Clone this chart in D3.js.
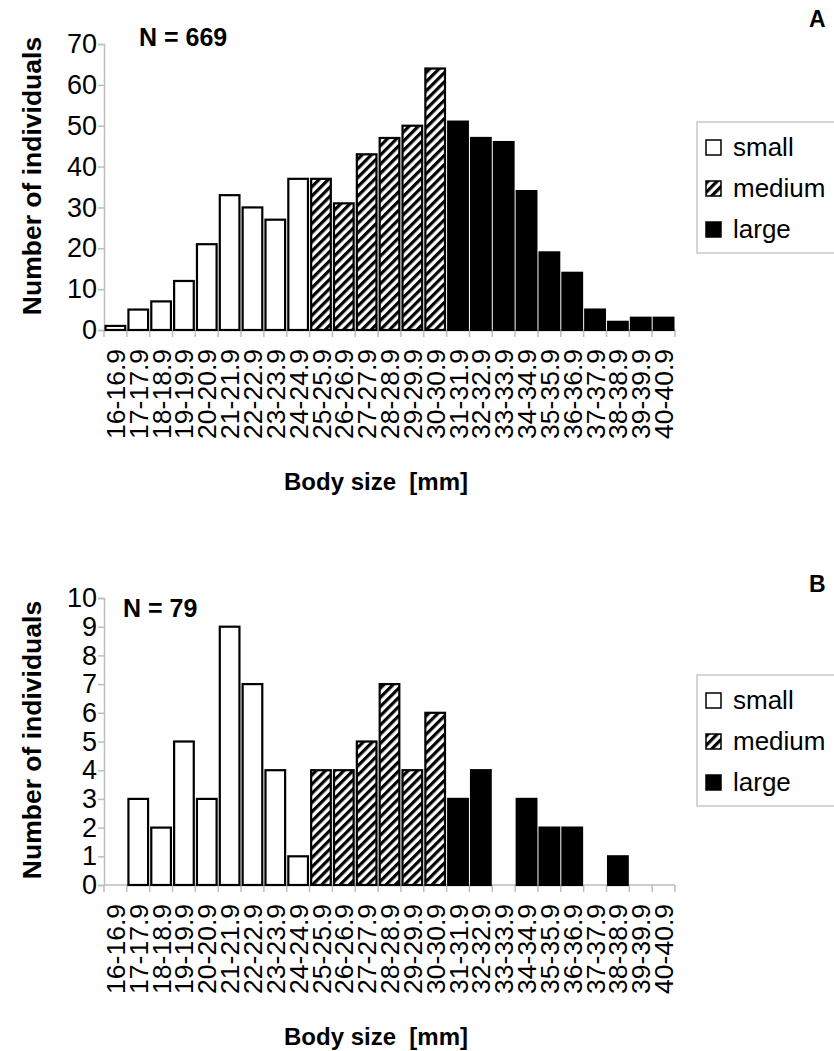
<!DOCTYPE html>
<html>
<head>
<meta charset="utf-8">
<script src="https://cdn.jsdelivr.net/npm/d3@7"></script>
<style>
  body { margin: 0; background: #fff; }
  svg { display: block; font-family: "Liberation Sans", Arial, sans-serif; }
</style>
</head>
<body>
<div id="chart"></div>
<script>
var width = 834;
var height = 1051;

// body size classes (mm)
var bins = ["16-16.9", "17-17.9", "18-18.9", "19-19.9", "20-20.9", "21-21.9", "22-22.9",
  "23-23.9", "24-24.9", "25-25.9", "26-26.9", "27-27.9", "28-28.9", "29-29.9", "30-30.9",
  "31-31.9", "32-32.9", "33-33.9", "34-34.9", "35-35.9", "36-36.9", "37-37.9", "38-38.9",
  "39-39.9", "40-40.9"];
var sizeClass = ["small", "small", "small", "small", "small", "small", "small", "small", "small",
  "medium", "medium", "medium", "medium", "medium", "medium",
  "large", "large", "large", "large", "large", "large", "large", "large", "large", "large"];
var classes = ["small", "medium", "large"];

// panel A, N = 669
var countsA = [1, 5, 7, 12, 21, 33, 30, 27, 37, 37, 31, 43, 47, 50, 64, 51, 47, 46, 34, 19, 14, 5, 2, 3, 3];
var ticksA = [0, 10, 20, 30, 40, 50, 60, 70];
// panel B, N = 79
var countsB = [0, 3, 2, 5, 3, 9, 7, 4, 1, 4, 4, 5, 7, 4, 6, 3, 4, 0, 3, 2, 2, 0, 1, 0, 0];
var ticksB = [0, 1, 2, 3, 4, 5, 6, 7, 8, 9, 10];

var axisGrey = "#bdbdbd";

var svg = d3.select("#chart").append("svg")
  .attr("width", width)
  .attr("height", height);

var pat = svg.append("defs").append("pattern")
  .attr("id", "hatch")
  .attr("patternUnits", "userSpaceOnUse")
  .attr("width", 6.5)
  .attr("height", 6.5)
  .attr("patternTransform", "rotate(45)");
pat.append("rect").attr("width", 6.5).attr("height", 6.5).attr("fill", "#fff");
pat.append("rect").attr("width", 3.2).attr("height", 6.5).attr("fill", "#000");

function fillFor(c) {
  if (c == "small") return "#fff";
  if (c == "medium") return "url(#hatch)";
  return "#000";
}

function drawPanel(opt) {
  var g = svg.append("g");
  var x = d3.scaleBand().domain(bins).range([104, 675]).paddingInner(0.14).paddingOuter(0.07);
  var edges = d3.scaleLinear().domain([0, bins.length]).range([104, 675]);
  var y = d3.scaleLinear().domain([0, opt.max]).range([opt.bottom, opt.top]);

  // y axis
  var axisY = d3.axisLeft(y).tickValues(opt.ticks).tickSize(6).tickPadding(1);
  var gy = g.append("g").attr("transform", "translate(104,0)").call(axisY);
  gy.select(".domain").attr("stroke", axisGrey).attr("stroke-width", 1.5);
  gy.selectAll(".tick line").attr("stroke", axisGrey).attr("stroke-width", 1.5);
  gy.selectAll(".tick text").attr("font-size", 27).attr("fill", "#000")
    .attr("font-family", "Liberation Sans, Arial, sans-serif");

  // x baseline + ticks between categories
  g.append("line")
    .attr("x1", 104).attr("x2", 675)
    .attr("y1", opt.bottom).attr("y2", opt.bottom)
    .attr("stroke", axisGrey).attr("stroke-width", 1.5);
  g.selectAll(".xt").data(d3.range(bins.length + 1)).enter().append("line")
    .attr("x1", function (i) { return edges(i); })
    .attr("x2", function (i) { return edges(i); })
    .attr("y1", opt.bottom).attr("y2", opt.bottom + 7)
    .attr("stroke", axisGrey).attr("stroke-width", 1.5);

  // bars
  var barData = opt.counts.map(function (v, i) { return { bin: bins[i], value: v, cls: sizeClass[i] }; })
    .filter(function (d) { return d.value > 0; });
  g.selectAll("rect.bar").data(barData).enter().append("rect")
    .attr("class", "bar")
    .attr("x", function (d) { return x(d.bin); })
    .attr("y", function (d) { return y(d.value); })
    .attr("width", x.bandwidth())
    .attr("height", function (d) { return y(0) - y(d.value); })
    .attr("fill", function (d) { return fillFor(d.cls); })
    .attr("stroke", "#000")
    .attr("stroke-width", 2.2);

  // category labels, rotated
  g.selectAll(".xl").data(bins).enter().append("text")
    .attr("transform", function (d) {
      return "translate(" + (x(d) + x.bandwidth() / 2) + "," + (opt.bottom + 19) + ") rotate(-90)";
    })
    .attr("text-anchor", "end")
    .attr("dy", "0.36em")
    .attr("font-size", 26.5)
    .text(function (d) { return d; });

  // axis titles
  g.append("text")
    .attr("transform", "translate(" + 41 + "," + opt.titleY + ") rotate(-90)")
    .attr("text-anchor", "middle")
    .attr("font-size", 26.5).attr("font-weight", "bold")
    .text("Number of individuals");
  g.append("text")
    .attr("x", 376).attr("y", opt.bottom + 160)
    .attr("text-anchor", "middle")
    .attr("font-size", 24).attr("font-weight", "bold")
    .attr("xml:space", "preserve")
    .text("Body size  [mm]");

  g.append("text")
    .attr("x", opt.nX).attr("y", opt.nY)
    .attr("font-size", 25).attr("font-weight", "bold")
    .text(opt.n);
  g.append("text")
    .attr("x", 809).attr("y", opt.letterY)
    .attr("font-size", 23).attr("font-weight", "bold")
    .text(opt.letter);

  // legend
  var lg = g.append("g").attr("transform", "translate(697," + opt.legendY + ")");
  lg.append("rect").attr("width", 150).attr("height", 131)
    .attr("fill", "#fff").attr("stroke", "#c8c8c8").attr("stroke-width", 1.5);
  var item = lg.selectAll(".item").data(classes).enter().append("g")
    .attr("transform", function (d, i) { return "translate(9," + (18 + i * 41) + ")"; });
  item.append("rect").attr("width", 15).attr("height", 15)
    .attr("fill", function (d) { return fillFor(d); })
    .attr("stroke", "#000").attr("stroke-width", 1.5);
  item.append("text").attr("x", 27).attr("y", 16)
    .attr("font-size", 26)
    .text(function (d) { return d; });
}

drawPanel({ counts: countsA, ticks: ticksA, max: 70, top: 44, bottom: 330, n: "N = 669", nX: 139, nY: 46,
  titleY: 176, letter: "A", letterY: 27, legendY: 122 });
drawPanel({ counts: countsB, ticks: ticksB, max: 10, top: 598, bottom: 885, n: "N = 79", nX: 123, nY: 617,
  titleY: 740, letter: "B", letterY: 592, legendY: 675 });
</script>
</body>
</html>
